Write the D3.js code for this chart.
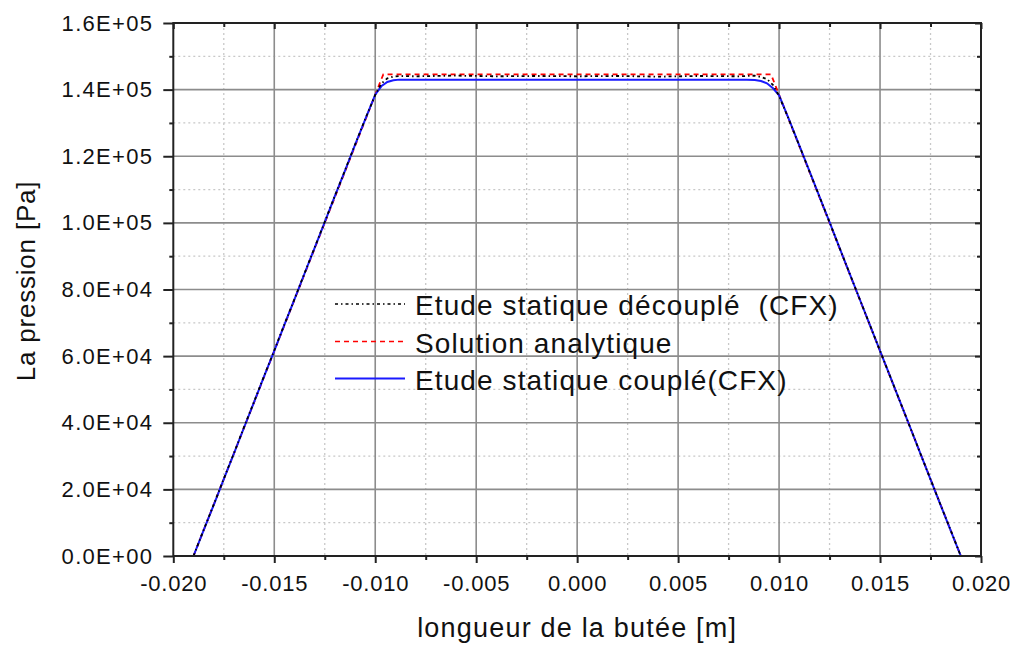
<!DOCTYPE html>
<html>
<head>
<meta charset="utf-8">
<script src="https://cdn.jsdelivr.net/npm/d3@7"></script>
<style>
  body { margin: 0; background: #fff; }
  text { font-family: "Liberation Sans", Arial, sans-serif; fill: #111; }
</style>
</head>
<body>
<svg id="chart" width="1016" height="645"></svg>
<script>
// ---- data ----
const xTicks = [-0.020, -0.015, -0.010, -0.005, 0.000, 0.005, 0.010, 0.015, 0.020];
const xMinorTicks = [-0.0175, -0.0125, -0.0075, -0.0025, 0.0025, 0.0075, 0.0125, 0.0175];
const yTicks = [0, 20000, 40000, 60000, 80000, 100000, 120000, 140000, 160000];
const yMinorTicks = [10000, 30000, 50000, 70000, 90000, 110000, 130000, 150000];

const seriesNames = ["Etude statique découplé  (CFX)", "Solution analytique", "Etude statique couplé(CFX)"];

// Etude statique découplé (CFX)
const xDecouple = [-0.0190, -0.0185, -0.0180, -0.0175, -0.0170, -0.0165, -0.0160, -0.0155, -0.0150, -0.0145, -0.0140, -0.0135, -0.0130, -0.0125, -0.0120, -0.0115, -0.0110, -0.0105, -0.0100, -0.0097, -0.0094, -0.0091, -0.0088, -0.0080, -0.0060, -0.0040, -0.0020, 0.0000, 0.0020, 0.0040, 0.0060, 0.0080, 0.0088, 0.0091, 0.0094, 0.0097, 0.0100, 0.0105, 0.0110, 0.0115, 0.0120, 0.0125, 0.0130, 0.0135, 0.0140, 0.0145, 0.0150, 0.0155, 0.0160, 0.0165, 0.0170, 0.0175, 0.0180, 0.0185, 0.0190];
const yDecouple = [0, 7800, 15400, 23200, 30800, 38700, 46300, 54100, 61700, 69500, 77100, 84900, 92600, 100300, 108100, 115700, 123500, 131100, 138400, 141800, 143400, 143900, 144100, 144000, 144200, 144000, 144100, 144000, 144100, 143900, 144100, 144000, 144200, 143800, 143200, 141400, 138100, 130800, 123200, 115500, 107900, 100200, 92400, 84700, 77000, 69300, 61600, 53900, 46200, 38500, 30700, 23000, 15300, 7700, 0];

// Solution analytique
const xAnalytic = [-0.0190, -0.0096, 0.0096, 0.0190];
const yAnalytic = [0, 144600, 144600, 0];

// Etude statique couplé (CFX)
const xCouple = [-0.0190, -0.0185, -0.0180, -0.0175, -0.0170, -0.0165, -0.0160, -0.0155, -0.0150, -0.0145, -0.0140, -0.0135, -0.0130, -0.0125, -0.0120, -0.0115, -0.0110, -0.0105, -0.0100, -0.0097, -0.0094, -0.0091, -0.0088, -0.0084, -0.0080, -0.0060, -0.0040, -0.0020, 0.0000, 0.0020, 0.0040, 0.0060, 0.0080, 0.0084, 0.0088, 0.0091, 0.0094, 0.0097, 0.0100, 0.0105, 0.0110, 0.0115, 0.0120, 0.0125, 0.0130, 0.0135, 0.0140, 0.0145, 0.0150, 0.0155, 0.0160, 0.0165, 0.0170, 0.0175, 0.0180, 0.0185, 0.0190];
const yCouple = [0, 7700, 15300, 23100, 30700, 38500, 46200, 54000, 61600, 69400, 77000, 84800, 92500, 100200, 108000, 115600, 123400, 131000, 138500, 141000, 142300, 142800, 143000, 143000, 143000, 143000, 143000, 143000, 143000, 143000, 143000, 143000, 143000, 143000, 142900, 142600, 141900, 140400, 138300, 130900, 123300, 115600, 107900, 100200, 92400, 84700, 77000, 69300, 61600, 53900, 46200, 38500, 30700, 23000, 15300, 7600, 0];

// ---- layout ----
const svg = d3.select("#chart");
const pLeft = 173.3, pRight = 981, pTop = 23, pBottom = 556;
const x = d3.scaleLinear().domain([-0.02, 0.02]).range([pLeft, pRight]);
const y = d3.scaleLinear().domain([0, 160000]).range([pBottom, pTop]);

const fmtX = d => (d < 0 ? "-" : "") + Math.abs(d).toFixed(3);
const fmtY = d => {
  if (d === 0) return "0.0E+00";
  const e = Math.floor(Math.log10(d) + 1e-9);
  const m = d / Math.pow(10, e);
  return m.toFixed(1) + "E+" + String(e).padStart(2, "0");
};

// minor grid
const grid = svg.append("g");
grid.selectAll(".vminor").data(xMinorTicks).join("line")
  .attr("x1", d => x(d)).attr("x2", d => x(d)).attr("y1", pTop).attr("y2", pBottom)
  .attr("stroke", "#c8c8c8").attr("stroke-width", 1.3).attr("stroke-dasharray", "2,3");
grid.selectAll(".hminor").data(yMinorTicks).join("line")
  .attr("y1", d => y(d)).attr("y2", d => y(d)).attr("x1", pLeft).attr("x2", pRight)
  .attr("stroke", "#c8c8c8").attr("stroke-width", 1.3).attr("stroke-dasharray", "2,3");
// major grid
grid.selectAll(".vmajor").data(xTicks.slice(1, -1)).join("line")
  .attr("x1", d => x(d)).attr("x2", d => x(d)).attr("y1", pTop).attr("y2", pBottom)
  .attr("stroke", "#8c8c8c").attr("stroke-width", 1.6);
grid.selectAll(".hmajor").data(yTicks.slice(1, -1)).join("line")
  .attr("y1", d => y(d)).attr("y2", d => y(d)).attr("x1", pLeft).attr("x2", pRight)
  .attr("stroke", "#8c8c8c").attr("stroke-width", 1.6);

// ---- series ----
const line = d3.line().x(d => x(d[0])).y(d => y(d[1]));
const plot = svg.append("g");
plot.append("path").datum(d3.zip(xAnalytic, yAnalytic)).attr("d", line)
  .attr("fill", "none").attr("stroke", "#ff0000").attr("stroke-width", 1.8).attr("stroke-dasharray", "5,4");
plot.append("path").datum(d3.zip(xCouple, yCouple)).attr("d", line)
  .attr("fill", "none").attr("stroke", "#1a1aff").attr("stroke-width", 2);
plot.append("path").datum(d3.zip(xDecouple, yDecouple)).attr("d", line)
  .attr("fill", "none").attr("stroke", "#000").attr("stroke-width", 1.8).attr("stroke-dasharray", "3,3,1.5,3");

// ---- axes ----
function styleAxis(g) {
  g.select(".domain").remove();
  g.selectAll(".tick line").attr("stroke", "#222").attr("stroke-width", 2);
}
const axB = svg.append("g").attr("transform", `translate(0,${pBottom})`)
  .call(d3.axisBottom(x).tickValues(xTicks).tickFormat(fmtX).tickSize(7).tickPadding(12).tickSizeOuter(0));
styleAxis(axB);
axB.selectAll("text").attr("font-size", 22).style("letter-spacing", "0.8px").attr("fill", "#111");
const axBm = svg.append("g").attr("transform", `translate(0,${pBottom})`)
  .call(d3.axisBottom(x).tickValues(xMinorTicks).tickFormat("").tickSize(4).tickSizeOuter(0));
styleAxis(axBm);

const axL = svg.append("g").attr("transform", `translate(${pLeft},0)`)
  .call(d3.axisLeft(y).tickValues(yTicks).tickFormat(fmtY).tickSize(10).tickPadding(10).tickSizeOuter(0));
styleAxis(axL);
axL.selectAll("text").attr("font-size", 22).style("letter-spacing", "1.3px").attr("fill", "#111");
const axLm = svg.append("g").attr("transform", `translate(${pLeft},0)`)
  .call(d3.axisLeft(y).tickValues(yMinorTicks).tickFormat("").tickSize(4).tickSizeOuter(0));
styleAxis(axLm);

const axT = svg.append("g").attr("transform", `translate(0,${pTop})`)
  .call(d3.axisTop(x).tickValues(xTicks).tickFormat("").tickSize(-6).tickSizeOuter(0));
styleAxis(axT);
const axTm = svg.append("g").attr("transform", `translate(0,${pTop})`)
  .call(d3.axisTop(x).tickValues(xMinorTicks).tickFormat("").tickSize(-4).tickSizeOuter(0));
styleAxis(axTm);
const axR = svg.append("g").attr("transform", `translate(${pRight},0)`)
  .call(d3.axisRight(y).tickValues(yTicks).tickFormat("").tickSize(-6).tickSizeOuter(0));
styleAxis(axR);
const axRm = svg.append("g").attr("transform", `translate(${pRight},0)`)
  .call(d3.axisRight(y).tickValues(yMinorTicks).tickFormat("").tickSize(-4).tickSizeOuter(0));
styleAxis(axRm);

// frame
svg.append("rect").attr("x", pLeft).attr("y", pTop).attr("width", pRight - pLeft).attr("height", pBottom - pTop)
  .attr("fill", "none").attr("stroke", "#222").attr("stroke-width", 2);

// axis titles
svg.append("text").attr("x", (pLeft + pRight) / 2).attr("y", 637).attr("text-anchor", "middle")
  .attr("font-size", 27).style("letter-spacing", "1.2px").text("longueur de la butée [m]");
svg.append("text").attr("transform", "translate(35,281) rotate(-90)").attr("text-anchor", "middle")
  .attr("font-size", 26).style("letter-spacing", "0.8px").text("La pression [Pa]");

// ---- legend ----
const legend = svg.append("g");
const legStyles = [
  { color: "#000", dash: "3,3,1.5,3", width: 1.6 },
  { color: "#ff0000", dash: "5,4", width: 1.6 },
  { color: "#1a1aff", dash: null, width: 2 }
];
const legY = [304, 341.5, 378.5];
seriesNames.forEach((name, i) => {
  legend.append("line").attr("x1", 335).attr("x2", 405).attr("y1", legY[i]).attr("y2", legY[i])
    .attr("stroke", legStyles[i].color).attr("stroke-width", legStyles[i].width)
    .attr("stroke-dasharray", legStyles[i].dash);
  legend.append("text").attr("x", 415).attr("y", legY[i] + 11).attr("font-size", 28)
    .style("letter-spacing", "1.1px").style("white-space", "pre").text(name);
});
</script>
</body>
</html>
